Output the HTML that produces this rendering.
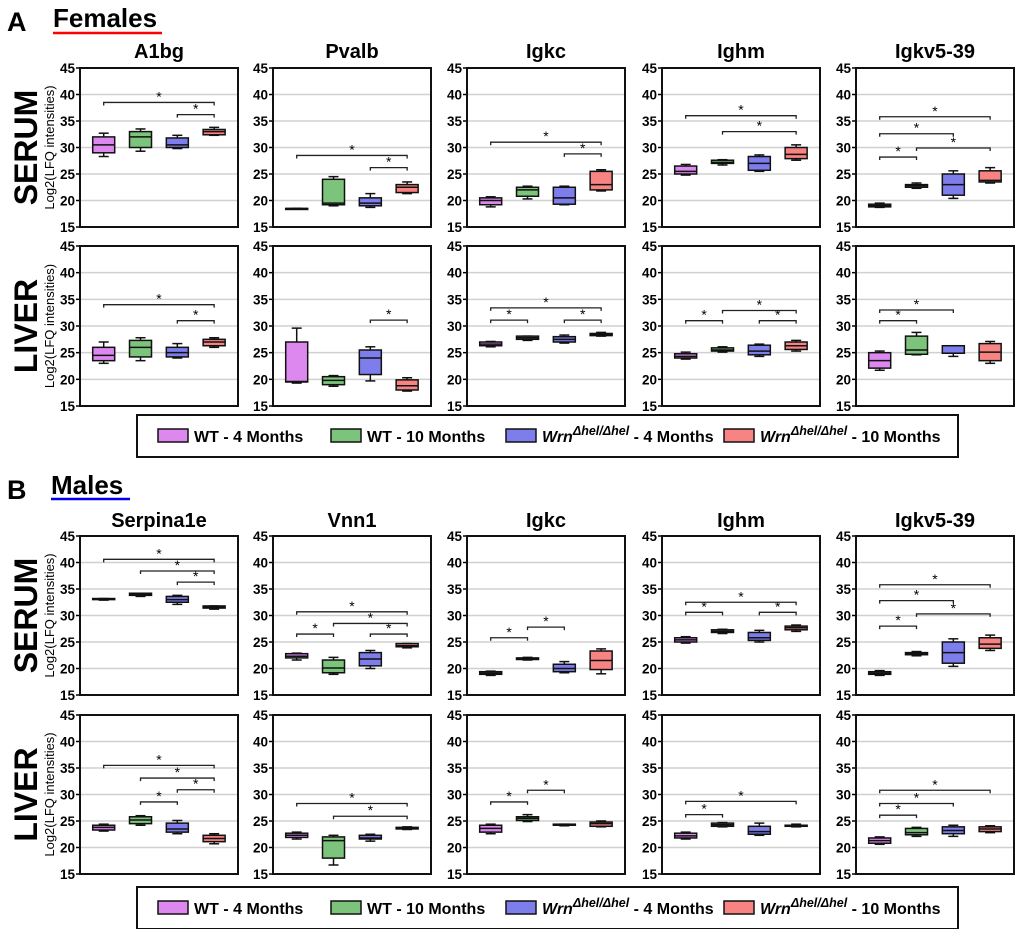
<!DOCTYPE html>
<html><head><meta charset="utf-8"><style>
html,body{margin:0;padding:0;background:#fff;}
svg{display:block;font-family:"Liberation Sans",Arial,sans-serif;}
</style></head><body>
<svg id="fig" width="1020" height="929" viewBox="0 0 1020 929" xmlns="http://www.w3.org/2000/svg"></svg>
<script>
// ---- data ----
const groupNames = ["WT - 4 Months","WT - 10 Months","Wrn 4 Months","Wrn 10 Months"];
const groupColors = ["#dc88ef","#7cc47b","#7d7deb","#f78383"];
const yTicks = [15,20,25,30,35,40,45];
const femaleTitles = ["A1bg","Pvalb","Igkc","Ighm","Igkv5-39"];
const maleTitles = ["Serpina1e","Vnn1","Igkc","Ighm","Igkv5-39"];
// each panel: 4 groups of [min,q1,median,q3,max]
const fSerum = [
 [[28.3,29,30.5,32,32.7],[29.3,30,32,33,33.5],[29.8,30,30.5,31.8,32.3],[32.3,32.4,33,33.4,33.8]],
 [[18.5,18.5,18.5,18.5,18.5],[19,19.2,19.5,24,24.5],[18.7,19,19.5,20.5,21.3],[21.3,21.5,22.5,23,23.5]],
 [[18.8,19.2,20,20.5,20.7],[20.3,20.8,22,22.5,22.7],[19.2,19.3,20.5,22.5,22.7],[21.8,22,23,25.5,25.8]],
 [[24.8,25,25.5,26.5,26.8],[26.7,27,27.2,27.6,27.7],[25.5,25.7,27,28.3,28.6],[27.6,27.9,28.7,30,30.5]],
 [[18.7,18.8,19,19.3,19.5],[22.3,22.5,22.8,23,23.3],[20.4,21,23,25,25.6],[23.3,23.5,23.8,25.6,26.2]]
];
const fLiver = [
 [[23,23.5,24.5,26,27],[23.5,24.2,26,27.3,27.8],[24,24.2,25,26,26.7],[26,26.3,27,27.5,27.8]],
 [[19.3,19.5,19.6,27,29.6],[18.7,19,19.8,20.5,20.7],[19.7,20.9,24,25.5,26.1],[17.8,18,18.8,19.9,20.3]],
 [[26.1,26.3,26.6,27,27.1],[27.3,27.5,27.8,28.1,28.1],[26.8,27,27.5,28,28.3],[28.1,28.2,28.4,28.6,28.8]],
 [[23.8,24,24.3,24.8,25.1],[25.1,25.3,25.5,25.9,26.1],[24.3,24.6,25.3,26.4,26.6],[25.3,25.6,26.3,27,27.3]],
 [[21.7,22.1,23.5,25,25.3],[24.6,24.7,25.5,28.1,28.8],[24.3,24.9,24.9,26.3,26.3],[23,23.5,25.1,26.7,27.1]]
];
const mSerum = [
 [[32.9,33,33.1,33.2,33.2],[33.6,33.8,34,34.2,34.2],[32.1,32.5,33,33.6,33.8],[31.2,31.4,31.6,31.8,31.8]],
 [[21.6,22,22.3,22.8,22.9],[18.9,19.2,20.1,21.6,22.1],[20,20.5,21.8,23,23.4],[23.9,24.1,24.3,24.7,24.7]],
 [[18.7,18.9,19.1,19.4,19.5],[21.6,21.7,21.9,22,22.1],[19.2,19.4,20,20.8,21.3],[19,19.8,21.5,23.3,23.7]],
 [[24.8,25,25.4,25.8,26],[26.6,26.8,27,27.3,27.4],[25,25.3,25.8,26.8,27.2],[27,27.3,27.7,28,28.2]],
 [[18.7,18.9,19.1,19.4,19.6],[22.4,22.6,22.8,23,23.2],[20.4,21,23,25,25.6],[23.4,23.8,24.6,25.8,26.3]]
];
const mLiver = [
 [[23.1,23.3,23.8,24.2,24.4],[24.2,24.5,25.2,25.8,26],[22.6,22.9,23.5,24.6,25.1],[20.7,21.1,21.7,22.3,22.6]],
 [[21.6,21.9,22.3,22.7,22.9],[16.7,18,21.3,22,22.3],[21.2,21.6,21.8,22.3,22.5],[23.4,23.5,23.6,23.8,23.9]],
 [[22.6,22.9,23.6,24.2,24.4],[24.9,25.1,25.5,25.8,26.2],[24.1,24.2,24.3,24.4,24.4],[23.9,24,24.5,24.8,25]],
 [[21.6,21.8,22.2,22.7,22.9],[23.9,24,24.3,24.6,24.7],[22.3,22.5,23,24,24.6],[23.9,24,24.1,24.2,24.4]],
 [[20.6,20.8,21.3,21.8,22],[22.1,22.4,22.8,23.6,23.8],[22.1,22.6,23.2,23.9,24.2],[22.8,23,23.5,23.9,24.1]]
];
// significance brackets: [fromGroup, toGroup, yValue]
const fSerumSig = [[[0,3,38.5],[2,3,36.2]],[[0,3,28.5],[2,3,26.2]],[[0,3,31],[2,3,28.8]],[[0,3,36],[1,3,33]],[[0,3,35.8],[0,2,32.6],[0,1,28.2],[1,3,29.9]]];
const fLiverSig = [[[0,3,34],[2,3,31]],[[2,3,31.1]],[[0,3,33.4],[0,1,31.1],[2,3,31.1]],[[0,1,31],[1,3,32.9],[2,3,31]],[[0,2,33],[0,1,31]]];
const mSerumSig = [[[0,3,40.6],[1,3,38.4],[2,3,36.3]],[[0,3,30.7],[1,3,28.5],[0,1,26.5],[2,3,26.5]],[[0,1,25.8],[1,2,27.8]],[[0,3,32.5],[0,1,30.6],[2,3,30.6]],[[0,3,35.8],[0,2,32.8],[1,3,30.3],[0,1,28]]];
const mLiverSig = [[[0,3,35.5],[1,3,33.1],[2,3,30.9],[1,2,28.6]],[[0,3,28.3],[1,3,25.9]],[[0,1,28.6],[1,2,30.8]],[[0,3,28.7],[0,1,26.2]],[[0,3,30.8],[0,2,28.3],[0,1,26.1]]];

// ---- layout ----
const NS="http://www.w3.org/2000/svg";
const svg=document.getElementById('fig');
const colLeft=[80,273,467,662,856], PW=158;
const rows=[{top:68,bot:227},{top:246,bot:406},{top:536,bot:695},{top:715,bot:874}];
function el(tag,attrs,parent,text){const e=document.createElementNS(NS,tag);for(const k in attrs)e.setAttribute(k,attrs[k]);if(text!==undefined)e.textContent=text;(parent||svg).appendChild(e);return e;}

function yScale(v,r){return r.bot-(v-15)/30*(r.bot-r.top);}
function xScale(i,left){return left+PW*(0.15+0.233*i);}

function drawPanel(r,left,data,sigs,pname){
  const g=el('g',{});
  
  
  yTicks.forEach(t=>{
    const y=yScale(t,r);
    if(t>15&&t<45){const gl=el('line',{x1:left,x2:left+PW,y1:y,y2:y,stroke:'#d0d0d0','stroke-width':1.5},g);}
    const tk=el('line',{x1:left-4,x2:left,y1:y,y2:y,stroke:'#000','stroke-width':1.5},g);
    
    const tl=el('text',{x:left-5,y:y+5,'text-anchor':'end','font-size':13.5,'font-weight':'bold'},g,String(t));
    
  });
  const fr=el('rect',{x:left,y:r.top,width:PW,height:r.bot-r.top,fill:'none',stroke:'#111','stroke-width':2},g);
  
  data.forEach((d,i)=>{
    const cx=xScale(i,left), hw=11;
    const bg=el('g',{},g);
    
    
    const yMin=yScale(d[0],r),yQ1=yScale(d[1],r),yMed=yScale(d[2],r),yQ3=yScale(d[3],r),yMax=yScale(d[4],r);
    el('line',{x1:cx,x2:cx,y1:yMax,y2:yQ3,stroke:'#111','stroke-width':1.5},bg);
    el('line',{x1:cx,x2:cx,y1:yQ1,y2:yMin,stroke:'#111','stroke-width':1.5},bg);
    el('line',{x1:cx-5,x2:cx+5,y1:yMax,y2:yMax,stroke:'#111','stroke-width':1.5},bg);
    el('line',{x1:cx-5,x2:cx+5,y1:yMin,y2:yMin,stroke:'#111','stroke-width':1.5},bg);
    el('rect',{x:cx-hw,y:yQ3,width:2*hw,height:Math.max(yQ1-yQ3,1),fill:groupColors[i],stroke:'#111','stroke-width':1.5},bg);
    el('line',{x1:cx-hw,x2:cx+hw,y1:yMed,y2:yMed,stroke:'#111','stroke-width':1.5},bg);
  });
  sigs.forEach(s=>{
    const x1=xScale(s[0],left),x2=xScale(s[1],left),y=yScale(s[2],r);
    const sg=el('g',{},g);
    
    
    el('path',{d:`M${x1},${y+3}V${y}H${x2}V${y+3}`,fill:'none',stroke:'#222','stroke-width':1.3},sg);
    el('text',{x:(x1+x2)/2,y:y-1,'text-anchor':'middle','font-size':14},sg,'*');
  });
}

function rowLabel(r,txt){
  const cy=(r.top+r.bot)/2;
  const t=el('text',{x:0,y:0,transform:`translate(37,${cy}) rotate(-90)`,'text-anchor':'middle','font-size':32,'font-weight':'bold'},svg,txt);
  
  
  const a=el('text',{x:0,y:0,transform:`translate(54,${cy}) rotate(-90)`,'text-anchor':'middle','font-size':13},svg,'Log2(LFQ intensities)');
  
  
}

function legend(y){
  const lg=el('g',{});
  
  
  el('rect',{x:137,y:y,width:821,height:42,fill:'#fff',stroke:'#111','stroke-width':2},lg);
  const sx=[158,331,506,724], cy=y+21;
  sx.forEach((x,i)=>{
    const e=el('g',{},lg);
    
    
    el('rect',{x:x,y:cy-7,width:30,height:13,fill:groupColors[i],stroke:'#111','stroke-width':1.5},e);
    const t=el('text',{x:x+36,y:cy+6,'font-size':16,'font-weight':'bold'},e);
    if(i<2){t.textContent=groupNames[i];}
    else{
      el('tspan',{'font-style':'italic'},t,'Wrn');
      el('tspan',{'font-style':'italic','font-size':12.5,dy:-7},t,'\u0394hel/\u0394hel');
      el('tspan',{dy:7},t,i==2?' - 4 Months':'  - 10 Months');
    }
  });
}

// headers
let t;
t=el('text',{x:7,y:31,'font-size':27,'font-weight':'bold'},svg,'A');
t=el('text',{x:53,y:27,'font-size':26,'font-weight':'bold'},svg,'Females');
t=el('line',{x1:53,x2:162,y1:33,y2:33,stroke:'#f00','stroke-width':2.5});
t=el('text',{x:7,y:499,'font-size':27,'font-weight':'bold'},svg,'B');
t=el('text',{x:51,y:494,'font-size':26,'font-weight':'bold'},svg,'Males');
t=el('line',{x1:51,x2:130,y1:499,y2:499,stroke:'#0000ee','stroke-width':2.5});

femaleTitles.forEach((n,c)=>{const e=el('text',{x:colLeft[c]+PW/2,y:58,'text-anchor':'middle','font-size':20,'font-weight':'bold'},svg,n);});
maleTitles.forEach((n,c)=>{const e=el('text',{x:colLeft[c]+PW/2,y:527,'text-anchor':'middle','font-size':20,'font-weight':'bold'},svg,n);});

rowLabel(rows[0],'SERUM');rowLabel(rows[1],'LIVER');rowLabel(rows[2],'SERUM');rowLabel(rows[3],'LIVER');
for(let c=0;c<5;c++){
  drawPanel(rows[0],colLeft[c],fSerum[c],fSerumSig[c],'female-serum-'+femaleTitles[c].toLowerCase());
  drawPanel(rows[1],colLeft[c],fLiver[c],fLiverSig[c],'female-liver-'+femaleTitles[c].toLowerCase());
  drawPanel(rows[2],colLeft[c],mSerum[c],mSerumSig[c],'male-serum-'+maleTitles[c].toLowerCase());
  drawPanel(rows[3],colLeft[c],mLiver[c],mLiverSig[c],'male-liver-'+maleTitles[c].toLowerCase());
}
legend(415);
legend(887);
</script>
</body></html>
